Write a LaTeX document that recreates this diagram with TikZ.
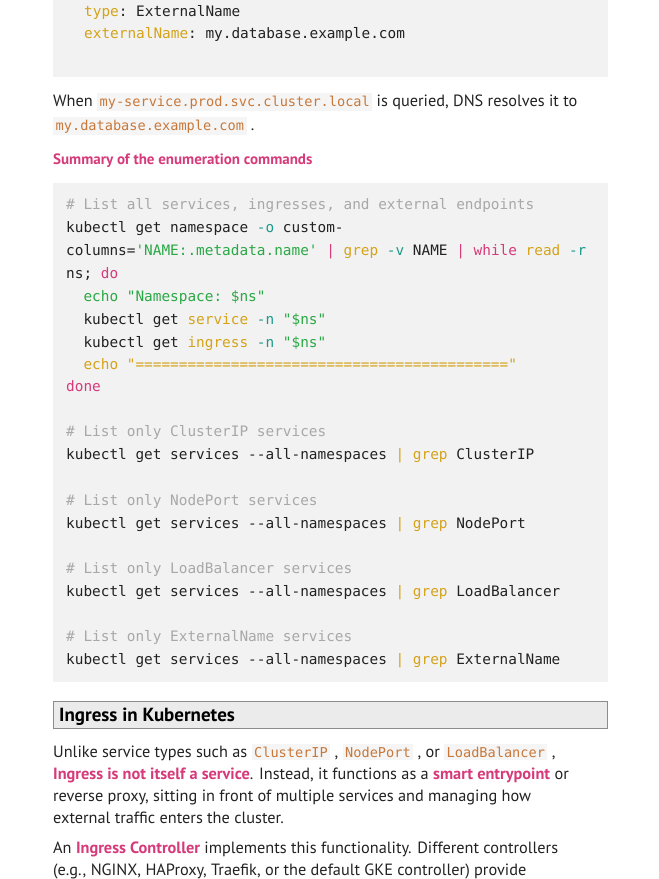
\documentclass[tikz,border=0pt]{standalone}
\usepackage{fontspec}
\setmainfont{PT Sans}
\setmonofont{DejaVu Sans Mono}
\definecolor{codebg}{HTML}{F2F2F2}
\definecolor{inbg}{HTML}{F5F5F5}
\definecolor{kw}{HTML}{D4A31A}
\definecolor{opt}{HTML}{1C9A8A}
\definecolor{pk}{HTML}{D63A7A}
\definecolor{str}{HTML}{2AA845}
\definecolor{cmt}{HTML}{A8A8A8}
\definecolor{inl}{HTML}{C8783A}
\definecolor{txt}{HTML}{222222}
\newcommand\Kw[1]{\textcolor{kw}{#1}}
\newcommand\Op[1]{\textcolor{opt}{#1}}
\newcommand\Pk[1]{\textcolor{pk}{#1}}
\newcommand\St[1]{\textcolor{str}{#1}}
\newcommand\Cm[1]{\textcolor{cmt}{#1}}
\newcommand\Ic[1]{{\setlength\fboxsep{2.5pt}\colorbox{inbg}{\fontsize{13.6}{13}\ttfamily\textcolor{inl}{#1}}}}
\begin{document}
\begin{tikzpicture}[x=1pt,y=-1pt,
  cl/.style={anchor=base west,inner sep=0,font=\fontsize{14.4}{14}\ttfamily,text=txt},
  bt/.style={anchor=base west,inner sep=0,font=\fontsize{16.3}{15}\selectfont,text=txt}]
\useasboundingbox (0,0) rectangle (659,879);
\fill[white] (0,0) rectangle (659,879);
\fill[codebg] (53,-2) rectangle (608,77);
\node[cl] (l1) at (84,16) {\Kw{type}: ExternalName};
\node[cl] (l2) at (84,38) {\Kw{externalName}: my.database.example.com};
\node[bt] (p1) at (53,106) {When \Ic{my-service.prod.svc.cluster.local} is queried, DNS resolves it to};
\node[bt] (p2) at (53,130) {\Ic{my.database.example.com} .};
\node[bt,font=\fontsize{15}{15}\bfseries,text=pk] (sum) at (53,164) {Summary of the enumeration commands};
\fill[codebg] (53,183) rectangle (608,682);
\node[cl] (c1) at (66,209) {\Cm{\# List all services, ingresses, and external endpoints}};
\node[cl] (c2) at (66,232) {kubectl get namespace \Op{-o} custom-};
\node[cl] (c3) at (66,255) {columns=\St{'NAME:.metadata.name'} \Pk{|} \Kw{grep} \Op{-v} NAME \Pk{|} \Pk{while} \Kw{read} \Op{-r}};
\node[cl] (c4) at (66,278) {ns; \Pk{do}};
\node[cl] (c5) at (66,301) {\St{\ \ echo "Namespace: \$ns"}};
\node[cl] (c6) at (66,324) {\ \ kubectl get \Kw{service} \Op{-n} \St{"\$ns"}};
\node[cl] (c7) at (66,347) {\ \ kubectl get \Kw{ingress} \Op{-n} \St{"\$ns"}};
\node[cl] (c8) at (66,369) {\Kw{\ \ echo "==========================================="}};
\node[cl] (c9) at (66,391) {\Pk{done}};
\node[cl] (c10) at (66,436) {\Cm{\# List only ClusterIP services}};
\node[cl] (c11) at (66,459) {kubectl get services --all-namespaces \Kw{|} \Kw{grep} ClusterIP};
\node[cl] (c12) at (66,505) {\Cm{\# List only NodePort services}};
\node[cl] (c13) at (66,528) {kubectl get services --all-namespaces \Kw{|} \Kw{grep} NodePort};
\node[cl] (c14) at (66,573) {\Cm{\# List only LoadBalancer services}};
\node[cl] (c15) at (66,596) {kubectl get services --all-namespaces \Kw{|} \Kw{grep} LoadBalancer};
\node[cl] (c16) at (66,641) {\Cm{\# List only ExternalName services}};
\node[cl] (c17) at (66,664) {kubectl get services --all-namespaces \Kw{|} \Kw{grep} ExternalName};
\draw[fill=black!8,draw=black!45] (53,701) rectangle (607,728);
\node[anchor=base west,inner sep=0,font=\fontsize{19}{19}\bfseries,text=black] (h) at (59,721) {Ingress in Kubernetes};
\node[bt] (q1) at (53,757) {Unlike service types such as \Ic{ClusterIP} , \Ic{NodePort} , or \Ic{LoadBalancer} ,};
\node[bt] (q2) at (53,779) {\textcolor{pk}{\bfseries Ingress is not itself a service}. Instead, it functions as a \textcolor{pk}{\bfseries smart entrypoint} or};
\node[bt] (q3) at (53,801) {reverse proxy, sitting in front of multiple services and managing how};
\node[bt] (q4) at (53,823) {external traffic enters the cluster.};
\node[bt] (r1) at (53,853) {An \textcolor{pk}{\bfseries Ingress Controller} implements this functionality. Different controllers};
\node[bt] (r2) at (53,875) {(e.g., NGINX, HAProxy, Traefik, or the default GKE controller) provide};
\end{tikzpicture}
\end{document}
